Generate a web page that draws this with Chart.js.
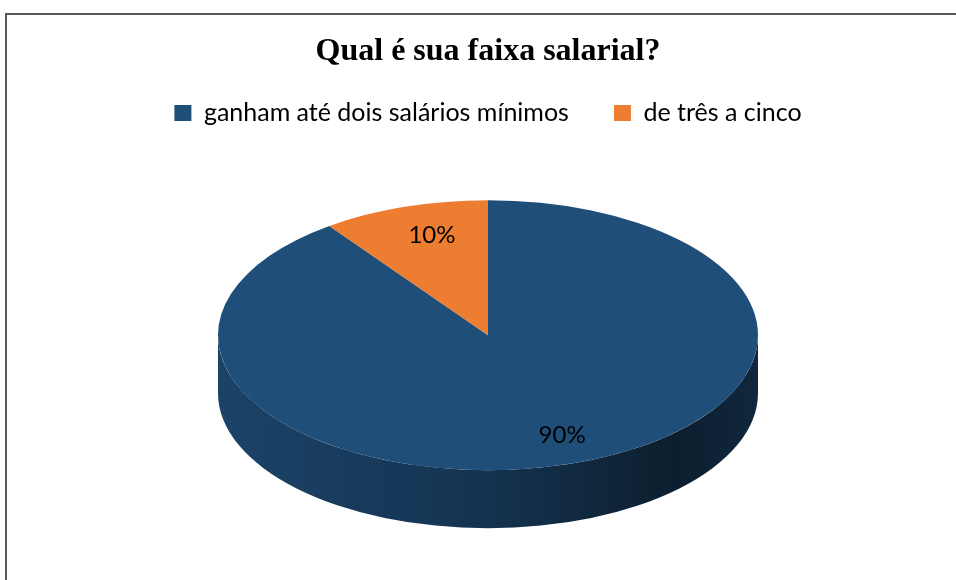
<!DOCTYPE html>
<html>
<head>
<meta charset="utf-8">
<script src="https://cdn.jsdelivr.net/npm/chart.js@4/dist/chart.umd.min.js"></script>
<style>
  html, body { margin: 0; background: #fff; }
  #wrap { position: relative; width: 956px; height: 580px; overflow: hidden; }
  #frame {
    position: absolute; left: 5px; top: 13px; width: 1000px; height: 620px;
    border-left: 2px solid #595959; border-top: 2px solid #595959;
  }
  canvas { position: absolute; left: 0; top: 0; }
</style>
</head>
<body>
<div id="wrap">
  <div id="frame"></div>
  <canvas id="chart" width="956" height="580"></canvas>
</div>
<script>
// 3d-ish pie: chart.js draws a flat pie, plugin squashes it and adds a side wall.

const categories = ["ganham até dois salários mínimos", "de três a cinco"];
const shares = [90, 10];
const sliceColors = ["#1F4E79", "#ED7D31"];

const TILT = 0.5;     // vertical squash of the top face
const DEPTH = 58;     // wall height in px
const LABEL_POS = 0.78;
const LABEL_DX = 9;   // excel nudges the labels a bit to the right

const labelFont = "Lato, 'Open Sans', sans-serif";

function shade(hex, f) {
  const n = parseInt(hex.slice(1), 16);
  const r = Math.round(((n >> 16) & 255) * f);
  const g = Math.round(((n >> 8) & 255) * f);
  const b = Math.round((n & 255) * f);
  return `rgb(${r},${g},${b})`;
}

const pie3d = {
  id: "pie3d",
  beforeDatasetsDraw(chart) {
    const arcs = chart.getDatasetMeta(0).data;
    if (!arcs.length) return;
    const ctx = chart.ctx;
    const { x, y, outerRadius } = arcs[0];
    const rx = outerRadius, ry = outerRadius * TILT;

    // front half of the wall (angles 0..PI on canvas are the lower half)
    arcs.forEach((arc, i) => {
      const base = sliceColors[i];
      for (const k of [-2 * Math.PI, 0, 2 * Math.PI]) {
        const a0 = Math.max(arc.startAngle + k, 0);
        const a1 = Math.min(arc.endAngle + k, Math.PI);
        if (a1 <= a0) continue;
        const grad = ctx.createLinearGradient(x - rx, 0, x + rx, 0);
        grad.addColorStop(0, shade(base, 0.86));
        grad.addColorStop(0.5, shade(base, 0.66));
        grad.addColorStop(0.85, shade(base, 0.38));
        grad.addColorStop(1, shade(base, 0.5));
        ctx.beginPath();
        ctx.ellipse(x, y, rx, ry, 0, a0, a1);
        ctx.ellipse(x, y + DEPTH, rx, ry, 0, a1, a0, true);
        ctx.closePath();
        ctx.fillStyle = grad;
        ctx.fill();
      }
    });

    ctx.save();
    ctx.translate(x, y);
    ctx.scale(1, TILT);
    ctx.translate(-x, -y);
  },
  afterDatasetsDraw(chart) {
    const ctx = chart.ctx;
    ctx.restore();
    const arcs = chart.getDatasetMeta(0).data;
    const total = shares.reduce((a, b) => a + b, 0);
    ctx.save();
    ctx.font = `24px ${labelFont}`;
    ctx.fillStyle = "#000";
    ctx.textAlign = "center";
    ctx.textBaseline = "middle";
    arcs.forEach((arc, i) => {
      const mid = (arc.startAngle + arc.endAngle) / 2;
      const r = arc.outerRadius * LABEL_POS;
      const lx = arc.x + Math.cos(mid) * r + LABEL_DX;
      const ly = arc.y + Math.sin(mid) * r * TILT;
      ctx.fillText(Math.round(shares[i] / total * 100) + "%", lx, ly);
    });
    ctx.restore();
  }
};

new Chart(document.getElementById("chart"), {
  type: "pie",
  data: {
    labels: categories,
    datasets: [{
      data: shares,
      backgroundColor: sliceColors,
      borderWidth: 0,
      radius: 270,
      clip: false
    }]
  },
  options: {
    responsive: false,
    animation: false,
    layout: { padding: { left: 20, right: 0, top: 0, bottom: 45 } },
    plugins: {
      title: {
        display: true,
        text: "Qual é sua faixa salarial?",
        color: "#000",
        font: { family: "'Liberation Serif', 'DejaVu Serif', serif", size: 32, weight: "bold" },
        padding: { top: 33, bottom: -16 }
      },
      legend: {
        position: "top",
        labels: {
          color: "#000",
          font: { family: labelFont, size: 25 },
          boxWidth: 17,
          boxHeight: 16,
          padding: 45
        }
      },
      tooltip: { enabled: false }
    }
  },
  plugins: [pie3d]
});
</script>
</body>
</html>
